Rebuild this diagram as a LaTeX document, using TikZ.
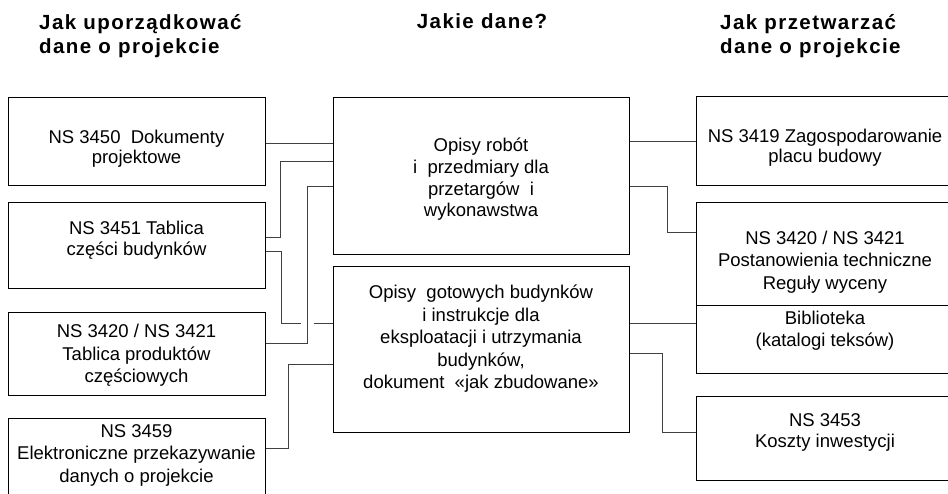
\documentclass[tikz,border=0pt]{standalone}
\usepackage{fontspec}
\setmainfont{Liberation Sans}
\newfontfamily\headfont[LetterSpace=7]{Liberation Sans}
\usetikzlibrary{calc}

\tikzset{
  box/.style={draw, line width=1pt, inner sep=0pt},
  txt/.style={align=center, inner sep=0pt, font=\fontsize{18.5}{#1}\selectfont},
  txt/.default=21.5,
  head/.style={align=left, inner sep=0pt, font=\headfont\bfseries\fontsize{20.5}{24}\selectfont},
  conn/.style={draw=black!75, line width=1pt},
}

\begin{document}
\begin{tikzpicture}[x=1pt, y=-1pt]
\useasboundingbox (0,0) rectangle (948,494);
\clip (0,0) rectangle (948,494);
%headings
\node[head, anchor=north west] (hleft) at (39,14) {Jak uporządkować\\dane o projekcie};
\node[head, anchor=north] (hmid) at (482,13) {Jakie dane?};
\node[head, anchor=north west] (hright) at (720,14) {Jak przetwarzać\\dane o projekcie};
%left boxes
\node[box, minimum width=257, minimum height=88] (ns3450) at (136.5,142) {};
\node[box, minimum width=257, minimum height=86] (ns3451) at (136.5,246) {};
\node[box, minimum width=257, minimum height=82] (ns3420) at (136.5,354) {};
\node[box, minimum width=257, minimum height=92] (ns3459) at (136.5,464) {};
\node[txt=20] (ns3450t) at (136.5,149) {NS 3450\ \ Dokumenty\\projektowe};
\node[txt] (ns3451t) at (136.5,240) {NS 3451 Tablica\\części budynków};
\node[txt=22.5] (ns3420t) at (136.5,355.5) {NS 3420 / NS 3421\\Tablica produktów\\częściowych};
\node[txt=22.5] (ns3459t) at (136.5,455) {NS 3459\\Elektroniczne przekazywanie\\danych o projekcie};
%middle boxes
\node[box, minimum width=296, minimum height=157] (robot) at (481,176.5) {};
\node[box, minimum width=296, minimum height=165] (gotowe) at (481,349.5) {};
\node[txt=21.7] (robott) at (481,179.5) {Opisy robót\\i\ \ przedmiary dla\\przetargów\ \ i\\wykonawstwa};
\node[txt=22.5] (gotowet) at (481,339) {Opisy\ \ gotowych budynków\\i instrukcje dla\\eksploatacji i utrzymania\\budynków,\\dokument\ \ «jak zbudowane»};
%right boxes
\node[box, minimum width=258, minimum height=89] (ns3419) at (825,141.5) {};
\node[box, minimum width=258, minimum height=103] (ns3421) at (825,254.5) {};
\node[box, minimum width=258, minimum height=67] (bib) at (825,339.5) {};
\node[box, minimum width=258, minimum height=84] (ns3453) at (825,438) {};
\node[txt=20] (ns3419t) at (825,148) {NS 3419 Zagospodarowanie\\placu budowy};
\node[txt=22.5] (ns3421t) at (825,262) {NS 3420 / NS 3421\\Postanowienia techniczne\\Reguły wyceny};
\node[txt=22] (bibt) at (825,330.5) {Biblioteka\\(katalogi teksów)};
\node[txt=21] (ns3453t) at (825,432) {NS 3453\\Koszty inwestycji};
%connectors left
\draw[conn] ([yshift=-2]ns3450.east) -- ([yshift=-2]ns3450.east -| robot.west);
\draw[conn] ([yshift=8]ns3451.east) -- ++(15,0) |- ([yshift=14.5]robot.west);
\draw[conn] ([yshift=-6]ns3451.east) -- ++(16,0) |- ([yshift=25.5]gotowe.west) coordinate (golo);
\coordinate (l3turn) at ([xshift=42, yshift=10]ns3420.east);
\fill[white] ($(l3turn |- golo)+(-6.5,-3)$) rectangle ($(l3turn |- golo)+(6.5,3)$); %gap
\draw[conn] ([yshift=10]ns3420.east) -- (l3turn) |- ([yshift=-10.5]robot.west);
\draw[conn] ([yshift=16]ns3459.east) -- ++(23,0) |- ([yshift=-14.5]gotowe.west);
%connectors right
\draw[conn] ([yshift=34.5]robot.east) -- ([yshift=34.5]robot.east -| ns3419.west);
\draw[conn] ([yshift=-10.5]robot.east) -- ++(38,0) |- ([yshift=21.5]ns3421.west);
\draw[conn] ([yshift=25.5]gotowe.east) -- ([yshift=25.5]gotowe.east -| bib.west);
\draw[conn] ([yshift=-4.5]gotowe.east) -- ++(33,0) |- ([yshift=6]ns3453.west);
\end{tikzpicture}
\end{document}
